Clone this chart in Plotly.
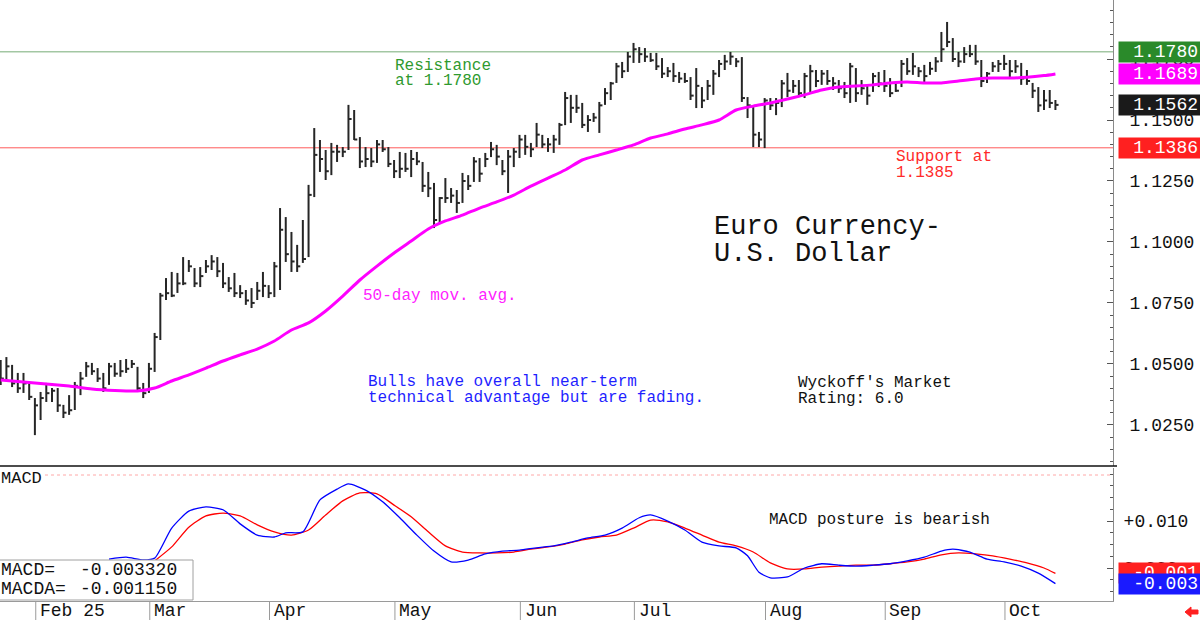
import plotly.graph_objects as go

# ---------------- data ----------------
start_index = -6  # trading-day index of first bar (Feb 3 = 0)

high = [1.0516, 1.0528, 1.0496, 1.0463, 1.0463, 1.0426, 1.0360, 1.0385, 1.0422, 1.0401,
        1.0401, 1.0332, 1.0372, 1.0426, 1.0467, 1.0508, 1.0504, 1.0483, 1.0463, 1.0504,
        1.0504, 1.0516, 1.0520, 1.0516, 1.0488, 1.0422, 1.0504,
        1.0627, 1.0791, 1.0852, 1.0877, 1.0873, 1.0938, 1.0926, 1.0893, 1.0897, 1.0926,
        1.0946, 1.0938, 1.0914, 1.0856, 1.0873, 1.0823, 1.0803, 1.0811, 1.0836, 1.0877,
        1.0823, 1.0918, 1.1139, 1.1102, 1.1041, 1.0988, 1.1090, 1.1234, 1.1467, 1.1418,
        1.1377, 1.1406, 1.1398, 1.1389, 1.1562, 1.1541, 1.1430, 1.1389, 1.1385, 1.1418,
        1.1418, 1.1389, 1.1336, 1.1369, 1.1365, 1.1377, 1.1369, 1.1328, 1.1287, 1.1242,
        1.1184, 1.1262, 1.1221, 1.1213, 1.1283, 1.1274, 1.1348, 1.1344, 1.1365, 1.1410,
        1.1398, 1.1336, 1.1377, 1.1385, 1.1439, 1.1439, 1.1406, 1.1488, 1.1439, 1.1426,
        1.1439, 1.1488, 1.1615, 1.1603, 1.1603, 1.1570, 1.1520,
        1.1529, 1.1574, 1.1631, 1.1656, 1.1734, 1.1738, 1.1779, 1.1816, 1.1799, 1.1795,
        1.1775, 1.1775, 1.1754, 1.1717, 1.1734, 1.1697, 1.1693, 1.1676, 1.1713, 1.1635,
        1.1664, 1.1705, 1.1746, 1.1767, 1.1779, 1.1754, 1.1758, 1.1594, 1.1553, 1.1451,
        1.1590, 1.1590, 1.1590, 1.1664, 1.1693, 1.1664, 1.1664, 1.1693, 1.1726, 1.1705,
        1.1705, 1.1705, 1.1676, 1.1664, 1.1656, 1.1734, 1.1713, 1.1664, 1.1644, 1.1693,
        1.1697, 1.1705, 1.1672, 1.1656, 1.1746, 1.1754, 1.1775, 1.1717, 1.1726, 1.1738,
        1.1758, 1.1861, 1.1902, 1.1836, 1.1779, 1.1799, 1.1808, 1.1808, 1.1746, 1.1697,
        1.1738, 1.1746, 1.1767, 1.1746, 1.1746, 1.1734, 1.1705, 1.1652, 1.1635, 1.1623,
        1.1623, 1.1582]

low = [1.0414, 1.0434, 1.0405, 1.0381, 1.0381, 1.0352, 1.0208, 1.0270, 1.0344, 1.0344,
       1.0303, 1.0278, 1.0291, 1.0311, 1.0372, 1.0447, 1.0455, 1.0426, 1.0385, 1.0414,
       1.0447, 1.0447, 1.0463, 1.0483, 1.0393, 1.0360, 1.0381,
       1.0467, 1.0598, 1.0762, 1.0774, 1.0791, 1.0823, 1.0877, 1.0815, 1.0815, 1.0873,
       1.0885, 1.0856, 1.0811, 1.0795, 1.0774, 1.0770, 1.0742, 1.0729, 1.0762, 1.0774,
       1.0770, 1.0774, 1.0803, 1.0918, 1.0877, 1.0877, 1.0914, 1.0938, 1.1184, 1.1287,
       1.1254, 1.1274, 1.1328, 1.1348, 1.1377, 1.1418, 1.1303, 1.1307, 1.1307, 1.1324,
       1.1369, 1.1307, 1.1262, 1.1262, 1.1287, 1.1266, 1.1315, 1.1205, 1.1184, 1.1057,
       1.1078, 1.1160, 1.1160, 1.1119, 1.1160, 1.1213, 1.1246, 1.1246, 1.1307, 1.1348,
       1.1315, 1.1274, 1.1201, 1.1307, 1.1344, 1.1357, 1.1348, 1.1389, 1.1385, 1.1369,
       1.1365, 1.1398, 1.1479, 1.1488, 1.1529, 1.1467, 1.1451,
       1.1492, 1.1447, 1.1562, 1.1582, 1.1652, 1.1672, 1.1697, 1.1734, 1.1734, 1.1738,
       1.1738, 1.1705, 1.1672, 1.1676, 1.1656, 1.1652, 1.1652, 1.1582, 1.1549, 1.1549,
       1.1582, 1.1603, 1.1676, 1.1705, 1.1726, 1.1717, 1.1574, 1.1508, 1.1389, 1.1389,
       1.1385, 1.1541, 1.1520, 1.1553, 1.1594, 1.1611, 1.1594, 1.1590, 1.1615, 1.1635,
       1.1644, 1.1644, 1.1623, 1.1611, 1.1590, 1.1570, 1.1574, 1.1603, 1.1562, 1.1615,
       1.1635, 1.1615, 1.1594, 1.1615, 1.1635, 1.1685, 1.1685, 1.1676, 1.1652, 1.1685,
       1.1697, 1.1738, 1.1799, 1.1738, 1.1717, 1.1734, 1.1758, 1.1726, 1.1635, 1.1652,
       1.1697, 1.1697, 1.1705, 1.1672, 1.1693, 1.1644, 1.1644, 1.1590, 1.1533, 1.1541,
       1.1549, 1.1541]

close = [1.0440, 1.0490, 1.0420, 1.0400, 1.0420, 1.0365, 1.0330, 1.0360, 1.0380, 1.0390,
         1.0330, 1.0300, 1.0310, 1.0410, 1.0440, 1.0490, 1.0470, 1.0440, 1.0400, 1.0490,
         1.0460, 1.0470, 1.0480, 1.0500, 1.0400, 1.0380, 1.0480,
         1.0610, 1.0780, 1.0790, 1.0780, 1.0830, 1.0830, 1.0900, 1.0830, 1.0860, 1.0900,
         1.0920, 1.0880, 1.0830, 1.0810, 1.0790, 1.0790, 1.0760, 1.0750, 1.0800, 1.0820,
         1.0790, 1.0900, 1.1050, 1.0950, 1.0920, 1.0900, 1.0930, 1.1193, 1.1357, 1.1340,
         1.1290, 1.1370, 1.1370, 1.1370, 1.1504, 1.1420, 1.1330, 1.1340, 1.1330, 1.1400,
         1.1380, 1.1320, 1.1290, 1.1300, 1.1300, 1.1340, 1.1330, 1.1230, 1.1220, 1.1090,
         1.1180, 1.1180, 1.1190, 1.1160, 1.1250, 1.1230, 1.1330, 1.1280, 1.1340, 1.1380,
         1.1350, 1.1290, 1.1350, 1.1370, 1.1420, 1.1390, 1.1380, 1.1440, 1.1400, 1.1400,
         1.1420, 1.1480, 1.1590, 1.1550, 1.1550, 1.1480, 1.1500,
         1.1510, 1.1560, 1.1610, 1.1650, 1.1720, 1.1700, 1.1760, 1.1790, 1.1770, 1.1760,
         1.1745, 1.1720, 1.1690, 1.1700, 1.1680, 1.1670, 1.1660, 1.1600, 1.1640, 1.1580,
         1.1640, 1.1690, 1.1730, 1.1740, 1.1760, 1.1740, 1.1590, 1.1560, 1.1440, 1.1420,
         1.1580, 1.1560, 1.1570, 1.1650, 1.1620, 1.1640, 1.1610, 1.1680, 1.1700, 1.1660,
         1.1690, 1.1660, 1.1650, 1.1630, 1.1610, 1.1720, 1.1610, 1.1630, 1.1600, 1.1680,
         1.1650, 1.1640, 1.1610, 1.1620, 1.1730, 1.1700, 1.1720, 1.1700, 1.1680, 1.1710,
         1.1740, 1.1790, 1.1820, 1.1750, 1.1740, 1.1770, 1.1770, 1.1740, 1.1660, 1.1690,
         1.1720, 1.1730, 1.1730, 1.1700, 1.1720, 1.1670, 1.1660, 1.1620, 1.1560, 1.1580,
         1.1570, 1.1562]

month_starts = [0, 20, 41, 63, 85, 105, 128, 149, 170]
month_labels = ["Feb 25", "Mar", "Apr", "May", "Jun", "Jul", "Aug", "Sep", "Oct"]

ma_idx = [-6, -2, 2, 6, 10, 14, 18, 21, 24, 27, 30, 33, 36, 39, 42, 45, 48, 51, 54, 57,
          60, 63, 66, 69, 72, 75, 78, 81, 84, 87, 90, 93, 96, 99, 102, 105, 108, 111, 114,
          117, 120, 123, 126, 129, 132, 135, 138, 141, 144, 147, 150, 153, 156, 159, 162,
          165, 168, 171, 174, 177, 179]
ma_val = [1.0434, 1.0426, 1.0418, 1.0409, 1.0397, 1.0391, 1.0389, 1.0401, 1.0430, 1.0455,
          1.0483, 1.0512, 1.0537, 1.0561, 1.0594, 1.0639, 1.0668, 1.0717, 1.0778, 1.0844,
          1.0901, 1.0955, 1.1004, 1.1053, 1.1086, 1.1110, 1.1139, 1.1164, 1.1192, 1.1229,
          1.1262, 1.1295, 1.1336, 1.1357, 1.1377, 1.1398, 1.1426, 1.1443, 1.1463, 1.1480,
          1.1500, 1.1541, 1.1557, 1.1570, 1.1586, 1.1603, 1.1623, 1.1635, 1.1639, 1.1644,
          1.1652, 1.1656, 1.1652, 1.1652, 1.1660, 1.1668, 1.1672, 1.1672, 1.1675, 1.1682,
          1.1689]

macd_idx = [13, 16, 19, 21, 24, 27, 30, 33, 36, 39, 42, 44, 47, 50, 53, 55, 58, 61, 64, 67,
            70, 73, 76, 79, 82, 85, 88, 91, 94, 97, 100, 103, 106, 108, 111, 114, 117, 120,
            123, 125, 127, 129, 132, 135, 138, 141, 144, 147, 150, 153, 156, 159, 161, 164,
            167, 170, 173, 176, 179]
macd_val = [0.0019, 0.0023, 0.0017, 0.0021, 0.0085, 0.0121, 0.0130, 0.0124, 0.0094, 0.0070,
            0.0066, 0.0075, 0.0077, 0.0145, 0.0168, 0.0179, 0.0166, 0.0141, 0.0107, 0.0070,
            0.0036, 0.0013, 0.0017, 0.0030, 0.0036, 0.0038, 0.0043, 0.0047, 0.0055, 0.0064,
            0.0070, 0.0085, 0.0107, 0.0113, 0.0100, 0.0081, 0.0055, 0.0047, 0.0043, 0.0026,
            -0.0009, -0.0021, -0.0019, 0.0000, 0.0009, 0.0006, 0.0004, 0.0006, 0.0009, 0.0015,
            0.0023, 0.0036, 0.0040, 0.0034, 0.0019, 0.0013, 0.0004, -0.0011, -0.00332]

sig_idx = [21, 24, 27, 30, 33, 36, 39, 42, 45, 48, 51, 54, 57, 60, 63, 66, 69, 72, 75, 78,
           81, 84, 87, 90, 93, 96, 99, 102, 105, 108, 111, 114, 117, 120, 123, 126, 129, 132,
           135, 138, 141, 144, 147, 150, 153, 156, 159, 162, 165, 168, 171, 174, 177, 179]
sig_val = [0.0015, 0.0045, 0.0087, 0.0111, 0.0117, 0.0111, 0.0092, 0.0077, 0.0070, 0.0081,
           0.0113, 0.0143, 0.0160, 0.0158, 0.0134, 0.0109, 0.0077, 0.0047, 0.0034, 0.0032,
           0.0032, 0.0034, 0.0040, 0.0045, 0.0051, 0.0060, 0.0066, 0.0070, 0.0085, 0.0102,
           0.0098, 0.0085, 0.0070, 0.0055, 0.0047, 0.0034, 0.0011, -0.0002, -0.0002, 0.0002,
           0.0004, 0.0006, 0.0006, 0.0009, 0.0013, 0.0019, 0.0028, 0.0032, 0.0030, 0.0026,
           0.0019, 0.0011, 0.0000, -0.00115]

resistance = 1.1780
support = 1.1386
support_text = 1.1385
last_ma = ma_val[-1]
last_close = close[-1]
macd_last = macd_val[-1]
macda_last = sig_val[-1]

# ---------------- geometry helpers ----------------
W, H = 1200, 620
ML, MR, MT, MB = 0, 87, 0, 19
PW, PH = W - ML - MR, H - MT - MB
MAIN_BOTTOM_PX = 466
MACD_TOP_PX = 468


def px_x(px):
    return (px - ML) / PW


def px_y(py):
    return (H - MB - py) / PH


FONT = "Liberation Mono, DejaVu Sans Mono, monospace"

fig = go.Figure()

# bars (high-low with close tick)
bx, by = [], []
for k, (h, l, c) in enumerate(zip(high, low, close)):
    i = start_index + k
    bx += [i, i, None, i, i + 0.55, None]
    by += [l, h, None, c, c, None]
fig.add_trace(go.Scatter(x=bx, y=by, mode="lines", line=dict(color="#262626", width=2),
                         hoverinfo="skip", xaxis="x", yaxis="y"))

# 50-day moving average
fig.add_trace(go.Scatter(x=ma_idx, y=ma_val, mode="lines", line=dict(color="#ff00ff", width=3, shape="spline", smoothing=0.6),
                         xaxis="x", yaxis="y"))

# MACD lines
fig.add_trace(go.Scatter(x=sig_idx, y=sig_val, mode="lines", line=dict(color="#ff0000", width=1.3, shape="spline", smoothing=0.6),
                         xaxis="x", yaxis="y2"))
fig.add_trace(go.Scatter(x=macd_idx, y=macd_val, mode="lines", line=dict(color="#0000ff", width=1.3, shape="spline", smoothing=0.6),
                         xaxis="x", yaxis="y2"))

main_bottom = px_y(MAIN_BOTTOM_PX)
macd_top = px_y(MACD_TOP_PX)

fig.update_layout(
    width=W, height=H,
    margin=dict(l=ML, r=MR, t=MT, b=MB),
    paper_bgcolor="white", plot_bgcolor="white",
    showlegend=False,
    xaxis=dict(domain=[0, 1], range=[-6.12, 189.1], anchor="y2", showticklabels=False,
               showgrid=False, zeroline=False, ticks="", showline=True, linecolor="#9a9a9a",
               linewidth=1),
    yaxis=dict(domain=[main_bottom, 1], range=[1.1992 - 466 * 0.00041, 1.1992], side="right",
               anchor="x", tick0=1.0, dtick=0.025, tickformat=".4f", ticks="inside",
               ticklen=6, tickcolor="#555", showline=True, linecolor="#8a8a8a", linewidth=1,
               showgrid=False, zeroline=False, ticklabelstandoff=12,
               tickfont=dict(family=FONT, size=18, color="#111"),
               minor=dict(tick0=1.0, dtick=0.005, ticks="inside", ticklen=3, tickcolor="#555")),
    yaxis2=dict(domain=[0, macd_top], range=[-0.00703, 0.0213], side="right", anchor="x",
                tickmode="array", tickvals=[0.0, 0.01], ticktext=["0.000", "+0.010"],
                ticks="inside", ticklen=6, tickcolor="#555", showline=True, linecolor="#8a8a8a",
                linewidth=1, showgrid=False, zeroline=False, ticklabelstandoff=6,
                tickfont=dict(family=FONT, size=18, color="#111"),
                minor=dict(tickmode="linear", tick0=0.0, dtick=0.0025, ticks="inside", ticklen=3,
                           tickcolor="#555")),
)

shapes = []
# resistance / support
shapes.append(dict(type="line", xref="x domain", yref="y", x0=0, x1=1, y0=resistance, y1=resistance,
                   line=dict(color="#a3c7a3", width=1.5), layer="below"))
shapes.append(dict(type="line", xref="x domain", yref="y", x0=0, x1=1, y0=support, y1=support,
                   line=dict(color="#ff5a5a", width=1), layer="below"))
# panel separator
shapes.append(dict(type="line", xref="paper", yref="paper", x0=0, x1=px_x(1117), y0=main_bottom, y1=main_bottom,
                   line=dict(color="#111", width=1.5)))
# MACD top dotted line
shapes.append(dict(type="line", xref="paper", yref="paper", x0=px_x(45), x1=1, y0=px_y(475), y1=px_y(475),
                   line=dict(color="#ffa8a8", width=1, dash="dot")))
# month separators
for m in month_starts:
    shapes.append(dict(type="line", xref="x", yref="paper", x0=m + 0.15, x1=m + 0.15, y0=0, y1=px_y(620),
                       line=dict(color="#9a9a9a", width=1)))
# MACD legend box
shapes.append(dict(type="rect", xref="paper", yref="paper", x0=px_x(-2), x1=px_x(193), y0=px_y(600), y1=px_y(560),
                   fillcolor="white", line=dict(color="#a0a0a0", width=1), layer="above"))
# red arrow bottom-right
pts = [(1185, 612), (1191, 607), (1191, 610), (1198, 610), (1198, 614), (1191, 614), (1191, 617)]
path = "M " + " L ".join(f"{px_x(a):.5f},{px_y(b):.5f}" for a, b in pts) + " Z"
shapes.append(dict(type="path", xref="paper", yref="paper", path=path, fillcolor="#ff2020",
                   line=dict(color="#ff2020", width=1)))
fig.update_layout(shapes=shapes)

ann = []


def text(px, py, s, color="#111", size=16, anchor="left"):
    ann.append(dict(xref="paper", yref="paper", x=px_x(px), y=px_y(py), text=s, showarrow=False,
                    xanchor=anchor, yanchor="middle", font=dict(family=FONT, size=size, color=color)))


# month labels
for m, lab in zip(month_starts, month_labels):
    ann.append(dict(xref="x", yref="paper", x=m, y=px_y(611), text=lab, showarrow=False, xanchor="left",
                    yanchor="middle", xshift=3, font=dict(family=FONT, size=18, color="#111")))

text(393, 66, "Resistance", color="#2f9a2f")
text(393, 81, f"at {resistance:.4f}", color="#2f9a2f")
text(894, 157, "Support at", color="#ff2a2a")
text(894, 173, f"{support_text:.4f}", color="#ff2a2a")
text(712, 227, "Euro Currency-", size=27)
text(712, 254, "U.S. Dollar", size=27)
text(361, 296, "50-day mov. avg.", color="#ff22ff")
text(366, 382, "Bulls have overall near-term", color="#1f1fff")
text(366, 398, "technical advantage but are fading.", color="#1f1fff")
text(796, 383, "Wyckoff's Market")
text(796, 399, "Rating: 6.0")
text(767, 520, "MACD posture is bearish")
text(-1, 478, "MACD", size=17)
text(-1, 570, "MACD=", size=18)
text(-1, 589, "MACDA=", size=18)
text(78, 570, f"{macd_last:.6f}", size=18)
text(78, 589, f"{macda_last:.6f}", size=18)


def price_box(val, yref, label, bg):
    ann.append(dict(xref="paper", yref=yref, x=1, y=val, text=label, showarrow=False, xanchor="left",
                    yanchor="middle", xshift=5, align="right", width=77, height=16, borderpad=2,
                    bgcolor=bg, font=dict(family=FONT, size=18, color="white")))


price_box(resistance, "y", f"{resistance:.4f}", "#2a8a2a")
price_box(last_ma, "y", f"{last_ma:.4f}", "#ff00ff")
price_box(last_close, "y", f"{last_close:.4f}", "#1a1a1a")
price_box(support, "y", f"{support:.4f}", "#ff2020")
price_box(macda_last, "y2", f"{macda_last:.3f}", "#ff2020")
price_box(macd_last, "y2", f"{macd_last:.3f}", "#1a1aff")

fig.update_layout(annotations=ann)

fig.write_html("out.html")
